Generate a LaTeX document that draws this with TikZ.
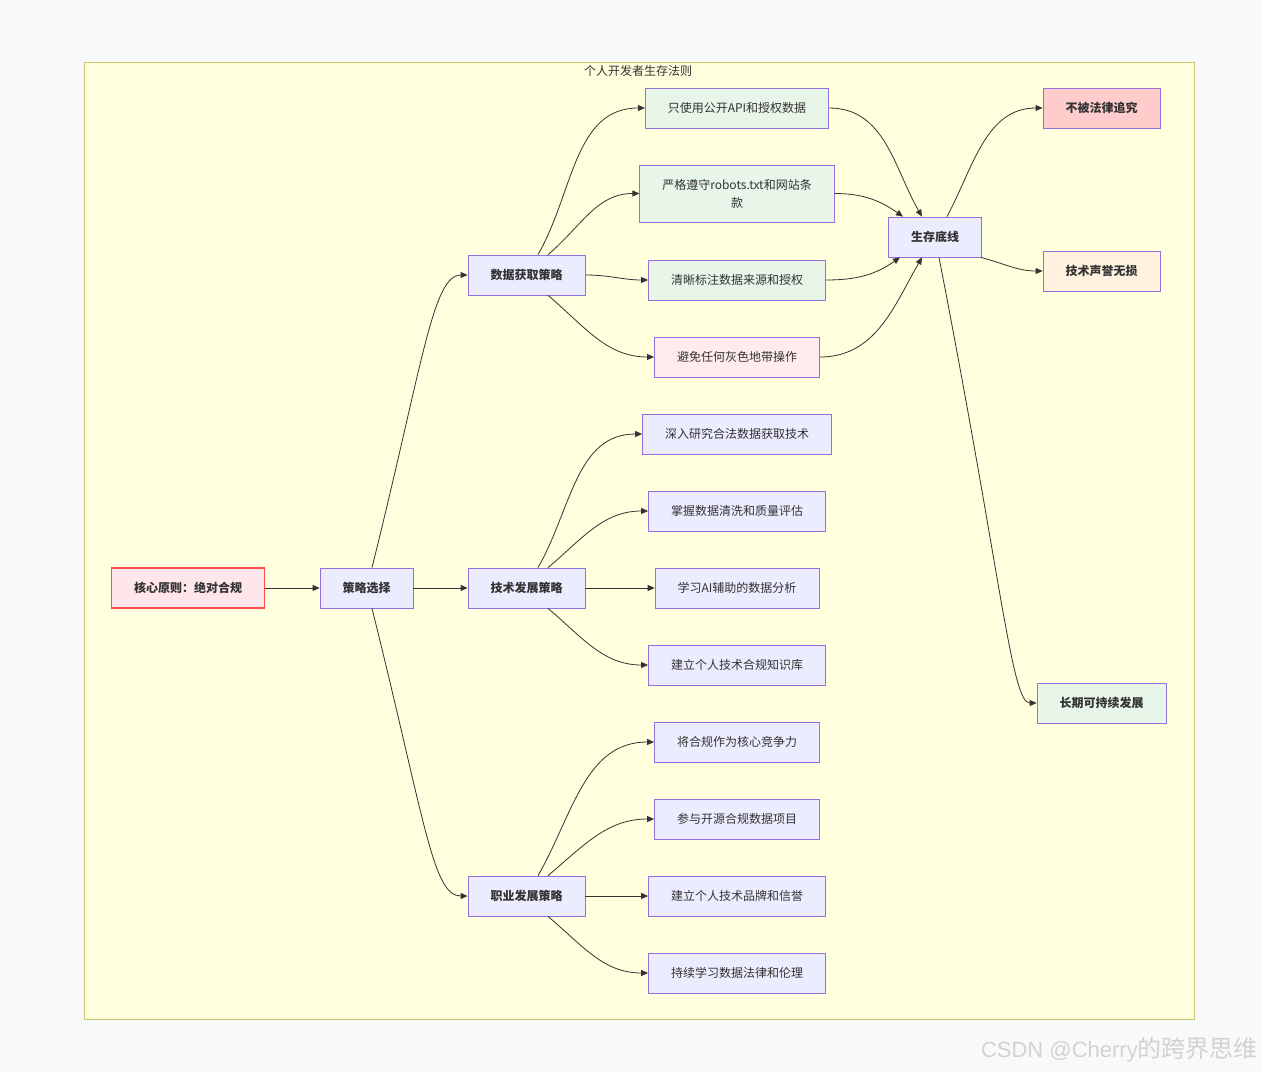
\documentclass[tikz,border=0pt]{standalone}
\usepackage{fontspec}
\setmainfont{Noto Sans CJK SC}
\newfontfamily\markfont{Liberation Sans}
\usetikzlibrary{arrows.meta}

\definecolor{bgc}{HTML}{F8F9FB}
\definecolor{clfill}{HTML}{FFFFDE}
\definecolor{clline}{HTML}{C8C870}
\definecolor{boxfill}{HTML}{ECECFF}
\definecolor{boxline}{HTML}{9370DB}
\definecolor{ink}{HTML}{333333}
\definecolor{corefill}{HTML}{FFE6EA}
\definecolor{coreline}{HTML}{FF4D4D}
\definecolor{okfill}{HTML}{E8F5E9}
\definecolor{warnfill}{HTML}{FFEBEE}
\definecolor{lawfill}{HTML}{FFCCCC}
\definecolor{repfill}{HTML}{FFF3E0}
\definecolor{mark}{HTML}{D2D2D2}

\tikzset{
  box/.style={draw=boxline, fill=boxfill, line width=0.8pt, minimum height=40pt,
    inner xsep=22.5pt, text=ink, font=\fontsize{12}{15}\selectfont\bfseries},
  leaf/.style={box, font=\fontsize{12}{15}\selectfont},
  flow/.style={draw=ink, line width=0.8pt, -{Triangle[length=7pt,width=6pt]}},
}

\begin{document}
\begin{tikzpicture}[x=1pt, y=1pt]
  \useasboundingbox[fill=bgc] (0,0) rectangle (1262,-1072);
  % cluster
  \draw[fill=clfill, draw=clline, line width=0.8pt] (84,-62) rectangle (1194,-1019);
  \node (title) [text=ink, font=\fontsize{12}{15}\selectfont] at (638,-71) {个人开发者生存法则};

  % main column
  \node (core) [box, fill=corefill, draw=coreline, line width=1.5pt] at (188,-588) {核心原则：绝对合规};
  \node (sel) [box] at (366.5,-588) {策略选择};
  \node (dat) [box] at (526.5,-275) {数据获取策略};
  \node (tec) [box] at (526.5,-588) {技术发展策略};
  \node (car) [box] at (526.5,-896) {职业发展策略};

  % data leaves
  \node (api) [leaf, fill=okfill] at (737,-108) {只使用公开API和授权数据};
  \node (rob) [leaf, fill=okfill, minimum height=57pt, align=center, font=\fontsize{12}{18}\selectfont] at (737,-193.5) {严格遵守robots.txt和网站条\\款};
  \node (src) [leaf, fill=okfill] at (737,-280) {清晰标注数据来源和授权};
  \node (gray) [leaf, fill=warnfill] at (737,-357) {避免任何灰色地带操作};

  % tech leaves
  \node (res) [leaf] at (737,-434) {深入研究合法数据获取技术};
  \node (cln) [leaf] at (737,-511) {掌握数据清洗和质量评估};
  \node (ai) [leaf] at (737,-588) {学习AI辅助的数据分析};
  \node (kb) [leaf] at (737,-665) {建立个人技术合规知识库};

  % career leaves
  \node (comp) [leaf] at (737,-742) {将合规作为核心竞争力};
  \node (oss) [leaf] at (737,-819) {参与开源合规数据项目};
  \node (brand) [leaf] at (737,-896) {建立个人技术品牌和信誉};
  \node (law) [leaf] at (737,-973) {持续学习数据法律和伦理};

  % right side
  \node (sur) [box] at (935,-237) {生存底线};
  \node (safe) [box, fill=lawfill] at (1101.5,-108) {不被法律追究};
  \node (rep) [box, fill=repfill] at (1101.5,-271) {技术声誉无损};
  \node (long) [box, fill=okfill] at (1101.5,-703) {长期可持续发展};

  % connectors
  \draw[flow] (core) -- (sel);
  \draw[flow] ([xshift=5.5pt]sel.north) .. controls +(76:210) and +(-35,0) .. (dat.west);
  \draw[flow] (sel) -- (tec);
  \draw[flow] ([xshift=5.5pt]sel.south) .. controls +(-76:220) and +(-35,0) .. (car.west);

  \draw[flow] ([xshift=11.5pt]dat.north) to[out=60, in=180] (api.west);
  \draw[flow] ([xshift=21.5pt]dat.north) to[out=40, in=180] (rob.west);
  \draw[flow] (dat.east) to[out=0, in=180] (src.west);
  \draw[flow] ([xshift=21.5pt]dat.south) to[out=-40, in=180] (gray.west);

  \draw[flow] ([xshift=11.5pt]tec.north) to[out=60, in=180] (res.west);
  \draw[flow] ([xshift=21.5pt]tec.north) to[out=40, in=180] (cln.west);
  \draw[flow] (tec) -- (ai);
  \draw[flow] ([xshift=21.5pt]tec.south) to[out=-40, in=180] (kb.west);

  \draw[flow] ([xshift=11.5pt]car.north) to[out=60, in=180] (comp.west);
  \draw[flow] ([xshift=21.5pt]car.north) to[out=40, in=180] (oss.west);
  \draw[flow] (car) -- (brand);
  \draw[flow] ([xshift=21.5pt]car.south) to[out=-40, in=180] (law.west);

  \draw[flow] (api.east) to[out=0, in=120] ([xshift=-13pt]sur.north);
  \draw[flow] (rob.east) to[out=0, in=145] ([xshift=-32pt]sur.north);
  \draw[flow] (src.east) to[out=0, in=-145] ([xshift=-35pt]sur.south);
  \draw[flow] (gray.east) to[out=0, in=-120] ([xshift=-13pt]sur.south);

  \draw[flow] ([xshift=12pt]sur.north) to[out=62, in=180] (safe.west);
  \draw[flow] ([xshift=-1pt]sur.south east) to[out=-15, in=180] (rep.west);
  \draw[flow] ([xshift=4pt]sur.south) .. controls +(-79:330) and +(-25,0) .. (long.west);

  % watermark
  \node (wm) [text=mark, anchor=east, inner sep=0pt] at (1258,-1050)
    {{\markfont\fontsize{22}{26}\selectfont CSDN @Cherry}{\fontsize{24}{26}\selectfont 的跨界思维}};
\end{tikzpicture}
\end{document}
